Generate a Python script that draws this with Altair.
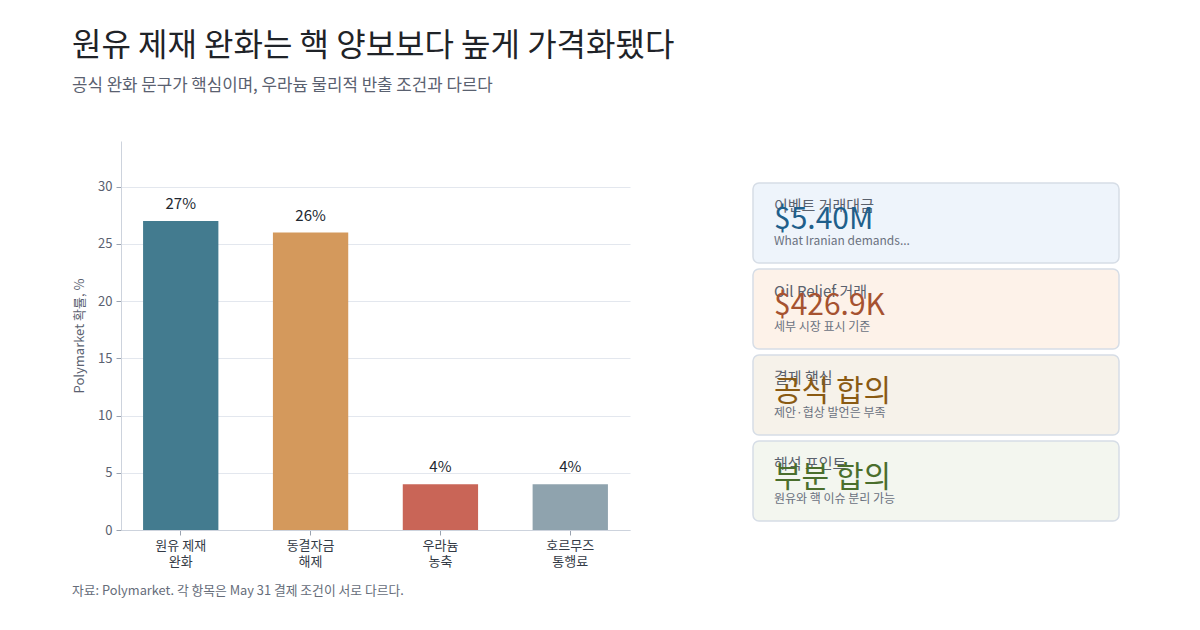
import altair as alt
import pandas as pd

FONT = "Noto Sans CJK KR"

categories = ["원유 제재\n완화", "동결자금\n해제", "우라늄\n농축", "호르무즈\n통행료"]
probabilities = [27, 26, 4, 4]
value_labels = ["27%", "26%", "4%", "4%"]
bar_colors = ["#437B8F", "#D4995C", "#C96557", "#8FA3AE"]

card_labels = ["이벤트 거래대금", "Oil Relief 거래", "결제 핵심", "해석 포인트"]
card_values = ["$5.40M", "$426.9K", "공식 합의", "부분 합의"]
card_notes = ["What Iranian demands...", "세부 시장 표시 기준", "제안·협상 발언은 부족", "원유와 핵 이슈 분리 가능"]
card_fills = ["#EEF4FB", "#FDF2E9", "#F6F2EA", "#F3F6EF"]
card_value_colors = ["#1F5F8B", "#A65230", "#8A5A12", "#4A6E2C"]

bars = pd.DataFrame({
    "category": categories,
    "prob": probabilities,
    "label": value_labels,
    "color": bar_colors,
})

cards = pd.DataFrame({
    "idx": list(range(len(card_labels))),
    "label": card_labels,
    "value": card_values,
    "note": card_notes,
    "fill": card_fills,
    "vcolor": card_value_colors,
})

x_enc = alt.X(
    "category:N",
    sort=categories,
    scale=alt.Scale(paddingInner=0.42, paddingOuter=0.17),
    axis=alt.Axis(
        title=None,
        labelAngle=0,
        labelExpr="split(datum.label, '\\n')",
        labelFont=FONT,
        labelFontSize=13,
        labelColor="#333A45",
        labelPadding=4,
        labelLineHeight=16,
        tickColor="#9AA3B0",
        tickSize=5,
        domainColor="#CDD3DD",
        grid=False,
    ),
)
y_enc = alt.Y(
    "prob:Q",
    scale=alt.Scale(domain=[0, 34], nice=False),
    axis=alt.Axis(
        title="Polymarket 확률, %",
        titleFont=FONT,
        titleFontSize=13,
        titleFontWeight="normal",
        titleColor="#5A6170",
        titlePadding=11,
        values=[0, 5, 10, 15, 20, 25, 30],
        labelFont=FONT,
        labelFontSize=13,
        labelColor="#5A6170",
        labelPadding=4,
        tickColor="#9AA3B0",
        tickSize=5,
        domainColor="#CDD3DD",
        gridColor="#E3E7EE",
    ),
)

base = alt.Chart(bars)
bar_layer = base.mark_bar().encode(
    x=x_enc,
    y=y_enc,
    color=alt.Color("color:N", scale=None),
)
text_layer = base.mark_text(
    font=FONT, fontSize=15, color="#222831", baseline="bottom", dy=-9
).encode(
    x=alt.X("category:N", sort=categories),
    y="prob:Q",
    text="label:N",
)
foot = alt.Chart(pd.DataFrame({"t": ["자료: Polymarket. 각 항목은 May 31 결제 조건이 서로 다르다."]})).mark_text(
    font=FONT, fontSize=12.8, color="#666D7A", align="left", baseline="middle"
).encode(
    x=alt.value(-49),
    y=alt.value(450),
    text="t:N",
)

left = alt.layer(bar_layer, text_layer, foot).properties(width=509, height=389)

cy = alt.Y(
    "idx:O",
    scale=alt.Scale(range=[42, 380], paddingInner=0.07, paddingOuter=0),
    axis=None,
)
cbase = alt.Chart(cards)
card_rect = cbase.mark_rect(cornerRadius=6, stroke="#D6DDE6", strokeWidth=1.5).encode(
    x=alt.value(0),
    x2=alt.value(366),
    y=cy,
    fill=alt.Fill("fill:N", scale=None),
)
card_label = cbase.mark_text(
    font=FONT, fontSize=15, color="#5A616D", align="left", baseline="middle", dy=-17
).encode(x=alt.value(21), y=cy, text="label:N")
card_value = cbase.mark_text(
    font=FONT, fontSize=30, align="left", baseline="middle", dy=-3
).encode(
    x=alt.value(21),
    y=cy,
    text="value:N",
    color=alt.Color("vcolor:N", scale=None),
)
card_note = cbase.mark_text(
    font=FONT, fontSize=12, color="#6A717E", align="left", baseline="middle", dy=18
).encode(x=alt.value(21), y=cy, text="note:N")

right = alt.layer(card_rect, card_label, card_value, card_note).properties(width=366, height=389)

chart = alt.hconcat(left, right, spacing=122).properties(
    title=alt.TitleParams(
        text="원유 제재 완화는 핵 양보보다 높게 가격화됐다",
        subtitle="공식 완화 문구가 핵심이며, 우라늄 물리적 반출 조건과 다르다",
        anchor="start",
        font=FONT,
        fontSize=32,
        fontWeight="normal",
        color="#1F2328",
        subtitleFont=FONT,
        subtitleFontSize=16.8,
        subtitleColor="#5A6170",
        subtitlePadding=15,
        offset=45,
    ),
    padding={"left": 72, "top": 30, "right": 40, "bottom": 10},
    background="white",
).configure_view(stroke=None)

chart.save("out.html", embed_options={"renderer": "svg", "actions": False})
